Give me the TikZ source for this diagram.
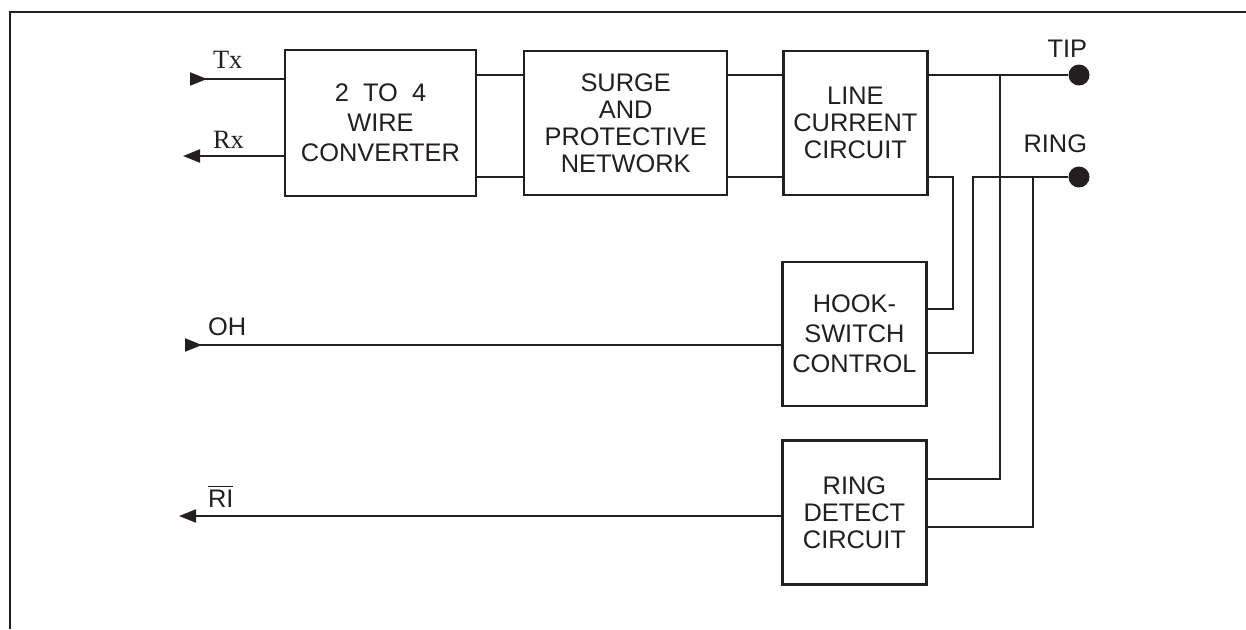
\documentclass[tikz,border=0pt]{standalone}
\usepackage{fontspec}
\setmainfont{Liberation Sans}
\newfontfamily\timesfont{Liberation Serif}
\usetikzlibrary{positioning,arrows.meta}
\definecolor{ink}{HTML}{231F20}

\begin{document}
\begin{tikzpicture}[
  x=0.5pt, y=-0.5pt,
  color=ink, line width=1pt,
  block/.style={draw, line width=1.1pt, align=center, inner sep=0pt,
                minimum width=72pt, minimum height=72pt,
                font=\fontsize{12.7}{13.5}\selectfont},
  wide/.style={font=\fontsize{12.7}{15}\selectfont},
  inarr/.style={{Triangle[reversed, length=8.5pt, width=6.5pt]}-},
  outarr/.style={{Triangle[length=8.5pt, width=6.5pt]}-},
  pin/.style={circle, fill, inner sep=0pt, minimum size=10.5pt},
  lab/.style={inner sep=0pt, font=\fontsize{12.7}{13.5}\selectfont},
  serlab/.style={inner sep=0pt, font=\timesfont\fontsize{13.2}{14}\selectfont}
]
  \useasboundingbox (0,0) rectangle (1246,629);
  \draw[line width=1.4pt] (10,629) -- (10,12) -- (1246,12);

  % top row
  \node[block, wide, minimum width=95.5pt, minimum height=73pt] (conv) at (380.5,123)
    {2~~TO~~4\\WIRE\\CONVERTER};
  \node[block, minimum width=101.5pt, right=23pt of conv] (surge)
    {SURGE\\AND\\PROTECTIVE\\NETWORK};
  \node[block, right=27pt of surge] (lcc) {LINE\\CURRENT\\CIRCUIT};

  % lower blocks
  \node[block, wide, below=32.5pt of lcc, xshift=-0.5pt] (hsc) {HOOK-\\SWITCH\\CONTROL};
  \node[block, below=16pt of hsc] (rdc) {RING\\DETECT\\CIRCUIT};

  % terminals
  \node[pin] (tip)  at (1079,75)  {};
  \node[pin] (ring) at (1079,177) {};
  \node[lab, anchor=base east] (tiplab)  at (1088,57)  {TIP};
  \node[lab, anchor=base east] (ringlab) at (1088,152) {RING};

  % wire heights
  \coordinate (hi)  at (0,75);
  \coordinate (lo)  at (0,177);
  \coordinate (hsA) at (0,309);
  \coordinate (hsB) at (0,353);
  \coordinate (rdA) at (0,479);
  \coordinate (rdB) at (0,527);

  \draw (conv.east |- hi) -- (surge.west |- hi);
  \draw (conv.east |- lo) -- (surge.west |- lo);
  \draw (surge.east |- hi) -- (lcc.west |- hi);
  \draw (surge.east |- lo) -- (lcc.west |- lo);
  \draw (lcc.east |- hi) -- (tip);

  % hook-switch and ring detect taps
  \coordinate (ringJ) at (973,177);
  \coordinate (tapT)  at (1000,75);
  \coordinate (tapR)  at (1033,177);
  \draw (lcc.east |- lo) -- ++(24,0) |- (hsc.east |- hsA);
  \draw (ring) -- (ringJ) |- (hsc.east |- hsB);
  \draw (tapT) |- (rdc.east |- rdA);
  \draw (tapR) |- (rdc.east |- rdB);

  % signals on the left
  \coordinate (txin)  at (190,79);
  \coordinate (rxout) at (183,156);
  \coordinate (ohin)  at (185,345);
  \coordinate (riout) at (179,516);
  \draw[inarr]  (txin)  -- (conv.west |- txin);
  \draw[outarr] (rxout) -- (conv.west |- rxout);
  \draw[inarr]  (ohin)  -- (hsc.west |- ohin);
  \draw[outarr] (riout) -- (rdc.west |- riout);

  \node[serlab, anchor=base west] (txlab) at (212,68)  {Tx};
  \node[serlab, anchor=base west] (rxlab) at (212,148) {Rx};
  \node[lab, anchor=base west] (ohlab) at (207,335) {OH};
  \node[lab, anchor=base west] (rilab) at (207,507) {$\overline{\mbox{RI}}$};
\end{tikzpicture}
\end{document}
